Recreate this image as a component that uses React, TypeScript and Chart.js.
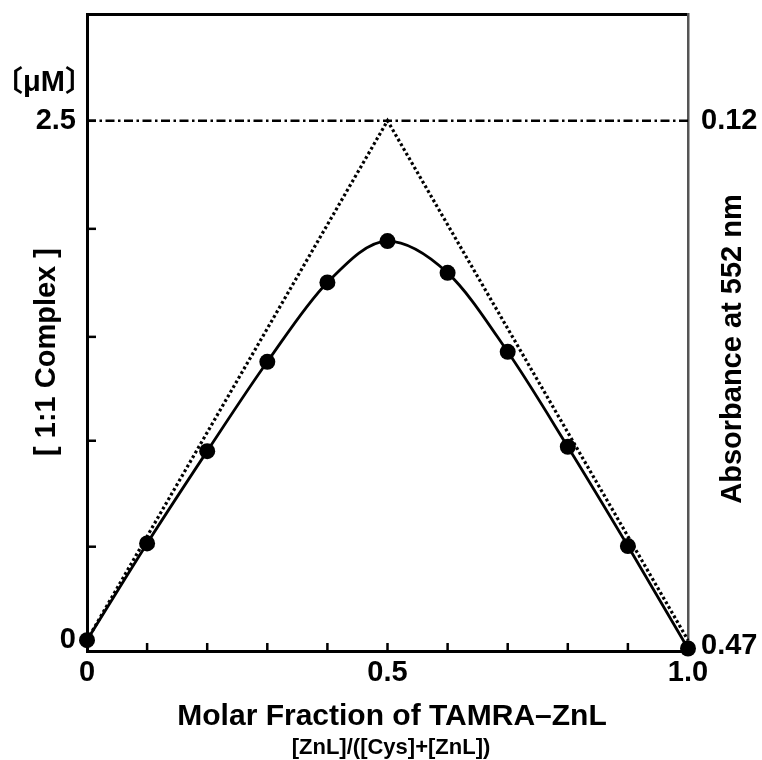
import React, { useEffect, useRef } from 'react';
import { Chart, registerables } from 'chart.js';

Chart.register(...registerables);

const molarFraction = [0, 0.1, 0.2, 0.3, 0.4, 0.5, 0.6, 0.7, 0.8, 0.9, 1.0];
const complexConc = [0, 0.466, 0.91, 1.34, 1.722, 1.921, 1.768, 1.388, 0.931, 0.453, -0.04];
const theoryFraction = [0, 0.5, 1.0];
const theoryConc = [0, 2.5, 0];
const maxFraction = [0, 1.0];
const maxConc = [2.5, 2.5];

const xTicks = [0, 0.1, 0.2, 0.3, 0.4, 0.5, 0.6, 0.7, 0.8, 0.9, 1.0];
const xTickLabels = ['0', '', '', '', '', '0.5', '', '', '', '', '1.0'];
const leftTicks = [0, 0.45, 0.96, 1.46, 1.98, 2.5];
const leftTickLabels = ['0', '', '', '', '', '2.5'];
const rightTicks = [0.12, 0.47];
const rightTickLabels = ['0.12', '0.47'];

const FONT = "'Liberation Sans', Arial, Helvetica, sans-serif";

const toPoints = (xs: number[], ys: number[]) => xs.map((x, i) => ({ x, y: ys[i] }));

const noPad = (s: any) => {
  s.paddingTop = 0;
  s.paddingBottom = 0;
  s.paddingLeft = 0;
  s.paddingRight = 0;
};

const decorPlugin = {
  id: 'decor',
  afterDraw(chart: any) {
    const { ctx, chartArea, scales } = chart;
    const xs = scales.x;
    const ys = scales.y;
    ctx.save();
    ctx.strokeStyle = '#000';
    ctx.lineWidth = 2.5;
    ctx.lineCap = 'butt';
    for (let i = 1; i < xTicks.length - 1; i++) {
      const px = xs.getPixelForValue(xTicks[i]);
      ctx.beginPath();
      ctx.moveTo(px, chartArea.bottom);
      ctx.lineTo(px, chartArea.bottom - 8);
      ctx.stroke();
    }
    for (let i = 1; i < leftTicks.length; i++) {
      const py = ys.getPixelForValue(leftTicks[i]);
      ctx.beginPath();
      ctx.moveTo(chartArea.left, py);
      ctx.lineTo(chartArea.left + 9, py);
      ctx.stroke();
    }
    ctx.fillStyle = '#000';
    ctx.textAlign = 'center';
    ctx.textBaseline = 'alphabetic';
    ctx.font = `bold 29px ${FONT}, 'Noto Sans CJK JP'`;
    ctx.fillText('〔μM〕', 44, 91);
    ctx.font = `bold 30px ${FONT}`;
    ctx.fillText('Molar Fraction of TAMRA–ZnL', 392, 725);
    ctx.font = `bold 22px ${FONT}`;
    ctx.fillText('[ZnL]/([Cys]+[ZnL])', 391, 754);
    ctx.save();
    ctx.translate(55, 352);
    ctx.rotate(-Math.PI / 2);
    ctx.font = `bold 29px ${FONT}`;
    ctx.fillText('[ 1:1 Complex ]', 0, 0);
    ctx.restore();
    ctx.save();
    ctx.translate(741, 349);
    ctx.rotate(-Math.PI / 2);
    ctx.font = `bold 29px ${FONT}`;
    ctx.fillText('Absorbance at 552 nm', 0, 0);
    ctx.restore();
    ctx.restore();
  },
};

export default function App() {
  const ref = useRef<HTMLCanvasElement | null>(null);
  useEffect(() => {
    if (!ref.current) return;
    const tickFont = { family: FONT, size: 29, weight: 'bold' as const };
    const chart = new Chart(ref.current, {
      type: 'scatter',
      data: {
        datasets: [
          {
            label: 'Complex',
            data: toPoints(molarFraction, complexConc),
            showLine: true,
            cubicInterpolationMode: 'monotone',
            borderColor: '#000',
            borderWidth: 2.8,
            backgroundColor: '#000',
            pointRadius: 8,
            pointHoverRadius: 8,
            pointBorderWidth: 0,
            clip: false,
            yAxisID: 'y',
          } as any,
          {
            label: 'Theory',
            data: toPoints(theoryFraction, theoryConc),
            showLine: true,
            borderColor: '#000',
            borderWidth: 3.2,
            borderDash: [2.8, 2.6],
            pointRadius: 0,
            clip: false,
            yAxisID: 'y',
          },
          {
            label: 'Max',
            data: toPoints(maxFraction, maxConc),
            showLine: true,
            borderColor: '#000',
            borderWidth: 2.4,
            borderDash: [9, 3.5, 2.5, 3.5],
            pointRadius: 0,
            clip: false,
            yAxisID: 'y',
          },
        ],
      },
      options: {
        responsive: false,
        animation: false,
        devicePixelRatio: 1,
        layout: { padding: 0 },
        plugins: { legend: { display: false }, tooltip: { enabled: false } },
        scales: {
          x: {
            type: 'linear',
            position: 'bottom',
            min: 0,
            max: 1,
            afterBuildTicks: (s: any) => {
              s.ticks = xTicks.map((v) => ({ value: v }));
            },
            afterFit: (s: any) => {
              s.height = 109;
              noPad(s);
            },
            ticks: {
              callback: (_v: any, i: number) => xTickLabels[i],
              font: tickFont,
              color: '#000',
              padding: 5,
              maxRotation: 0,
              autoSkip: false,
            },
            grid: { display: false, drawTicks: false },
            border: { display: true, color: '#000', width: 3 },
          },
          x2: {
            type: 'linear',
            position: 'top',
            min: 0,
            max: 1,
            afterFit: (s: any) => {
              s.height = 14;
              noPad(s);
            },
            ticks: { display: false },
            grid: { display: false, drawTicks: false },
            border: { display: true, color: '#000', width: 3 },
          },
          y: {
            type: 'linear',
            position: 'left',
            min: -0.052,
            max: 3.014,
            afterBuildTicks: (s: any) => {
              s.ticks = leftTicks.map((v) => ({ value: v }));
            },
            afterFit: (s: any) => {
              s.width = 87;
              noPad(s);
            },
            ticks: {
              callback: (_v: any, i: number) => leftTickLabels[i],
              font: tickFont,
              color: '#000',
              padding: 11,
              autoSkip: false,
            },
            grid: { display: false, drawTicks: false },
            border: { display: true, color: '#000', width: 3 },
          },
          y2: {
            type: 'linear',
            position: 'right',
            reverse: true,
            min: 0.0487,
            max: 0.4733,
            afterBuildTicks: (s: any) => {
              s.ticks = rightTicks.map((v) => ({ value: v }));
            },
            afterFit: (s: any) => {
              s.width = 74;
              noPad(s);
            },
            ticks: {
              callback: (_v: any, i: number) => rightTickLabels[i],
              font: tickFont,
              color: '#000',
              padding: 13,
              autoSkip: false,
            },
            grid: { display: false, drawTicks: false },
            border: { display: true, color: '#555', width: 2.5 },
          },
        },
      },
      plugins: [decorPlugin],
    });
    return () => chart.destroy();
  }, []);
  return (
    <div style={{ position: 'fixed', left: 0, top: 0, width: 762, height: 760, background: '#fff' }}>
      <canvas ref={ref} width={762} height={760} />
    </div>
  );
}
